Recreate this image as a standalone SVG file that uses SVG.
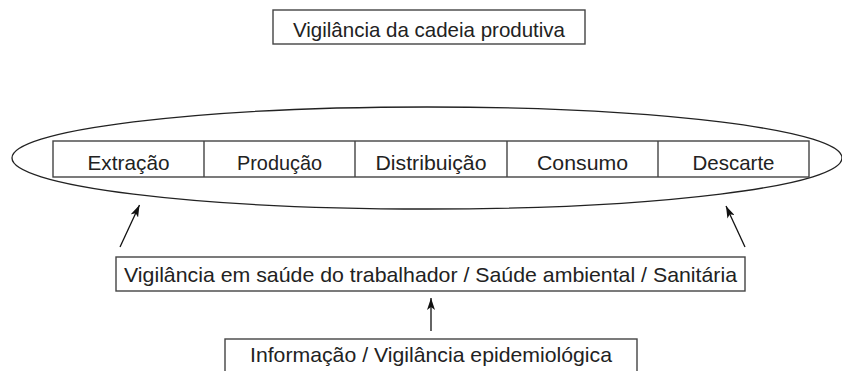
<svg xmlns="http://www.w3.org/2000/svg" width="842" height="371" viewBox="0 0 842 371">
<style>
.box{fill:#fff;stroke:#444;stroke-width:1.4}
.t{font-family:"Liberation Sans",Arial,sans-serif;font-size:21px;fill:#222;text-anchor:middle}
.c{stroke:#111;stroke-width:1.3;fill:none;marker-end:url(#ah)}
</style>
<defs>
<marker id="ah" viewBox="0 0 12 8" refX="12" refY="4" markerWidth="12" markerHeight="8" markerUnits="userSpaceOnUse" orient="auto">
<path d="M0,0 L12,4 L0,8 L3,4 Z" fill="#111"/>
</marker>
</defs>
<rect width="842" height="371" fill="#fff"/>
<g id="top">
<rect class="box" x="273" y="10" width="312" height="34"/>
<text class="t" x="429" y="37" textLength="272" lengthAdjust="spacingAndGlyphs">Vigilância da cadeia produtiva</text>
</g>
<g id="ellipse">
<ellipse cx="427" cy="158" rx="415" ry="51" fill="none" stroke="#222" stroke-width="1.3"/>
</g>
<g id="chain">
<rect class="box" x="53" y="141" width="756" height="36"/>
<line x1="204" y1="141" x2="204" y2="177" stroke="#444" stroke-width="1.4"/>
<line x1="355" y1="141" x2="355" y2="177" stroke="#444" stroke-width="1.4"/>
<line x1="507" y1="141" x2="507" y2="177" stroke="#444" stroke-width="1.4"/>
<line x1="658" y1="141" x2="658" y2="177" stroke="#444" stroke-width="1.4"/>
</g>
<g id="extracao"><text class="t" x="128.5" y="170" textLength="82" lengthAdjust="spacingAndGlyphs">Extração</text></g>
<g id="producao"><text class="t" x="279.5" y="170" textLength="85" lengthAdjust="spacingAndGlyphs">Produção</text></g>
<g id="distribuicao"><text class="t" x="431" y="170" textLength="111" lengthAdjust="spacingAndGlyphs">Distribuição</text></g>
<g id="consumo"><text class="t" x="582.5" y="170" textLength="91" lengthAdjust="spacingAndGlyphs">Consumo</text></g>
<g id="descarte"><text class="t" x="733.5" y="170" textLength="82" lengthAdjust="spacingAndGlyphs">Descarte</text></g>
<g id="vigilancia">
<rect class="box" x="116" y="257" width="629" height="34"/>
<text class="t" x="430.5" y="282" textLength="613" lengthAdjust="spacingAndGlyphs">Vigilância em saúde do trabalhador / Saúde ambiental / Sanitária</text>
</g>
<g id="informacao">
<rect class="box" x="225" y="339" width="412" height="40"/>
<text class="t" x="431" y="362" textLength="362" lengthAdjust="spacingAndGlyphs">Informação / Vigilância epidemiológica</text>
</g>
<g id="connectors">
<line class="c" x1="120" y1="247" x2="139.5" y2="205"/>
<line class="c" x1="745" y1="247" x2="726" y2="206"/>
<line class="c" x1="431" y1="331" x2="431" y2="298"/>
</g>
</svg>
